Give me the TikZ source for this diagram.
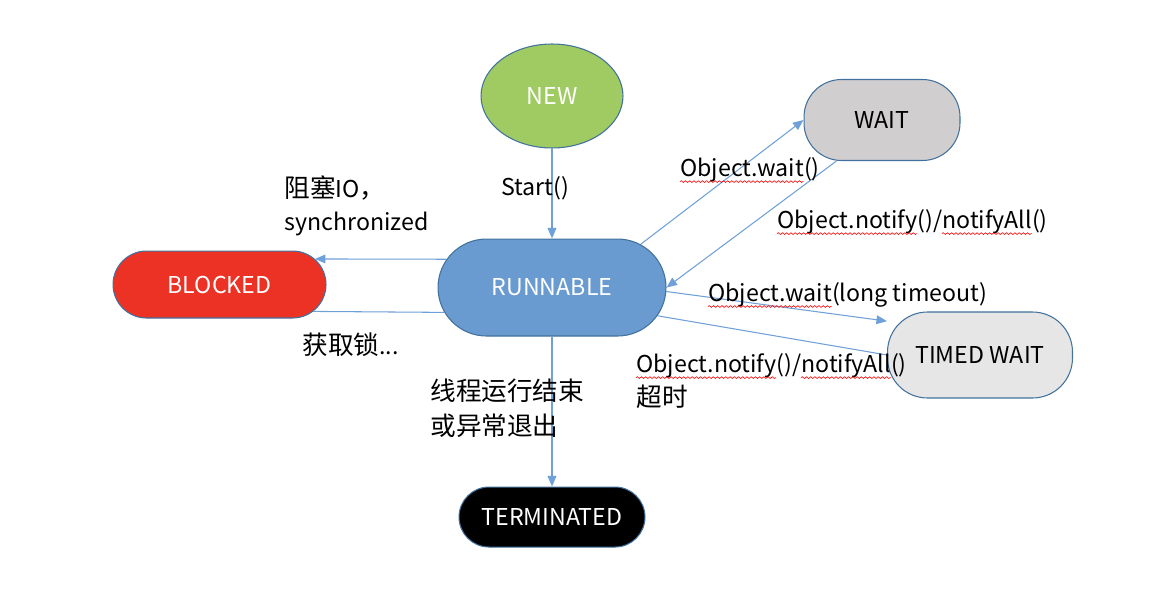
\documentclass[tikz,border=0pt]{standalone}
\usepackage{fontspec}
\setmainfont{Noto Sans CJK SC}
\usepackage{xcolor}
\usetikzlibrary{arrows.meta, positioning, shapes.geometric, shapes.misc, backgrounds, decorations.pathmorphing}

\definecolor{newgreen}{HTML}{9FCB62}
\definecolor{runblue}{HTML}{6A9BD0}
\definecolor{blkred}{HTML}{EC3125}
\definecolor{waitgray}{HTML}{D0CECE}
\definecolor{timedgray}{HTML}{E7E6E6}
\definecolor{rimblue}{HTML}{41719C}
\definecolor{lineblue}{HTML}{6FA0D8}

% Chinese glyphs a little larger than the Latin ones
\newcommand\zh[1]{{\fontsize{14.6}{19}\selectfont #1}}

\begin{document}
\fontsize{13.2}{19}\selectfont
\begin{tikzpicture}[
  x=0.02cm, y=-0.02cm,
  font=\fontsize{13.2}{19}\selectfont,
  state/.style={
    rounded rectangle, draw=rimblue, line width=0.6pt,
    inner sep=0pt, text=white
  },
  trans/.style={draw=lineblue, line width=0.6pt, -{Triangle[length=6pt,width=5pt]}},
  link/.style={draw=lineblue, line width=0.6pt},
  lbl/.style={inner sep=0pt, align=left, anchor=west},
  spell/.style={draw=red, line width=0.35pt, decorate,
    decoration={snake, amplitude=0.5pt, segment length=2.4pt}}
]
  \useasboundingbox (0,0) rectangle (1158,608);

  \node [ellipse, draw=rimblue, line width=0.6pt, fill=newgreen, text=white,
         minimum width=2.84cm, minimum height=2.08cm, inner sep=0pt] (new) at (552,96) {NEW};
  \node [state, fill=runblue, minimum width=4.56cm, minimum height=1.94cm,
         below=1.8cm of new] (run) {RUNNABLE};
  \node [state, fill=blkred, minimum width=4.26cm, minimum height=1.34cm,
         left=2.22cm of run, yshift=0.06cm] (blk) {BLOCKED};
  \node [state, fill=black, minimum width=3.72cm, minimum height=1.2cm,
         below=3cm of run] (term) {TERMINATED};
  \node [rectangle, rounded corners=0.75cm, draw=rimblue, line width=0.6pt, fill=waitgray,
         minimum width=3.12cm, minimum height=1.62cm] (wait) at (882,120) {WAIT};
  \node [rectangle, rounded corners=0.8cm, draw=rimblue, line width=0.6pt, fill=timedgray,
         minimum width=3.7cm, minimum height=1.72cm] (timed) at (980,355) {TIMED WAIT};

  \node [lbl] (lstart) at (501,188) {Start()};
  \node [lbl] (lblock) at (284,206) {\zh{阻塞}IO\zh{，}\\synchronized};
  \node [lbl] (llock) at (302,345) {\zh{获取锁}...};
  \node [lbl] (lwait) at (680,170) {Object.wait()};
  \node [lbl] (lnotify) at (777,222) {Object.notify()/notifyAll()};
  \node [lbl] (ltwait) at (708,295) {Object.wait(long timeout)};
  \node [lbl] (ltnotify) at (636,366) {Object.notify()/notifyAll()};
  \node [lbl] (ltout) at (636,397) {\zh{超时}};
  \node [lbl] (lend) at (430,408) {\zh{线程运行结束}\\[1pt]\zh{或异常退出}};

  % spell-check waves
  \pgfmathsetmacro\wobjwait{width("Object.wait")}
  \pgfmathsetmacro\wobjnotify{width("Object.notify")}
  \pgfmathsetmacro\wskip{width("Object.notify()/")}
  \pgfmathsetmacro\wnotifyall{width("notifyAll")}
  \foreach \lab in {lwait, ltwait}
    \path [spell] ([yshift=-2.8pt]\lab.base west) -- ++(\wobjwait pt,0pt);
  \foreach \lab in {lnotify, ltnotify} {
    \path [spell] ([yshift=-2.8pt]\lab.base west) -- ++(\wobjnotify pt,0pt);
    \path [spell] ([yshift=-2.8pt,xshift=\wskip pt]\lab.base west) -- ++(\wnotifyall pt,0pt);
  }

  \begin{scope}[on background layer]
    \path [trans] (new.south) -- (run.north);
    \path [trans] (run.165) -- (blk.15.5);
    \path [link] (blk.-16.3) -- (run.193);
    \path [trans] (run.26) -- (wait.west);
    \path [trans] (wait.222) -- (run.east);
    \path [trans] (run.358) -- (timed.160);
    \path [link] (timed.west) -- (run.345);
    \path [trans] (run.south) -- (term.north);
  \end{scope}

\end{tikzpicture}
\end{document}
